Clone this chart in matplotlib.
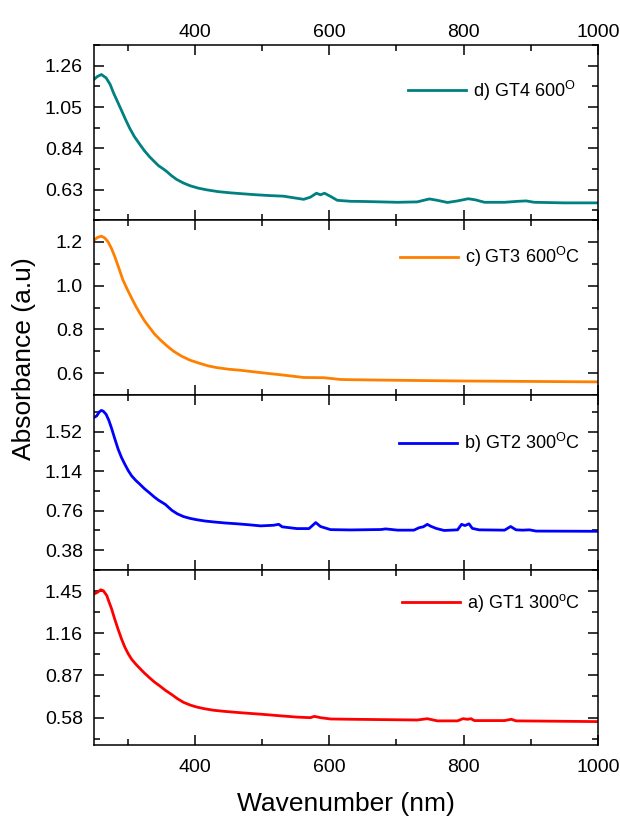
import matplotlib
matplotlib.use("Agg")
import matplotlib.pyplot as plt

plt.rcParams['font.family'] = ['Liberation Sans', 'DejaVu Sans']
plt.rcParams['mathtext.fontset'] = 'custom'
plt.rcParams['mathtext.rm'] = 'Liberation Sans'
plt.rcParams['mathtext.it'] = 'Liberation Sans'

# d) GT4 600
wl_d = [250, 255, 261, 268, 274, 279, 285, 291, 297, 303, 310, 318, 325, 333, 340,
        346, 352, 358, 365, 373, 383, 393, 405, 418, 435, 453, 472, 492, 512, 532,
        547, 562, 572, 581, 587, 593, 602, 612, 632, 652, 702, 731, 749, 761, 776,
        791, 807, 818, 831, 861, 881, 893, 905, 950, 1000]
abs_d = [1.190, 1.205, 1.215, 1.198, 1.165, 1.122, 1.077, 1.032, 0.986, 0.943, 0.900,
         0.861, 0.828, 0.796, 0.772, 0.752, 0.738, 0.723, 0.702, 0.682, 0.664, 0.650,
         0.638, 0.629, 0.620, 0.614, 0.609, 0.604, 0.600, 0.597, 0.589, 0.581, 0.592,
         0.612, 0.604, 0.612, 0.596, 0.576, 0.571, 0.570, 0.566, 0.568, 0.583, 0.576,
         0.565, 0.573, 0.584, 0.578, 0.566, 0.566, 0.571, 0.573, 0.566, 0.563, 0.563]

# c) GT3 600 C
wl_c = [250, 255, 261, 266, 271, 276, 281, 287, 293, 300, 306, 312, 318, 325, 333,
        340, 348, 358, 368, 380, 393, 408, 420, 433, 450, 468, 485, 502, 532, 562,
        592, 617, 632, 680, 740, 800, 900, 1000]
abs_c = [1.208, 1.220, 1.226, 1.218, 1.200, 1.170, 1.132, 1.080, 1.026, 0.980, 0.943,
         0.907, 0.875, 0.840, 0.807, 0.779, 0.754, 0.726, 0.701, 0.678, 0.659, 0.644,
         0.633, 0.625, 0.618, 0.613, 0.607, 0.601, 0.591, 0.580, 0.579, 0.571, 0.570,
         0.568, 0.566, 0.564, 0.562, 0.560]

# b) GT2 300 C
wl_b = [250, 254, 258, 261, 264, 268, 272, 276, 281, 286, 291, 296, 301, 306, 312,
        318, 325, 333, 340, 346, 356, 366, 374, 383, 393, 403, 415, 428, 445, 463,
        480, 498, 517, 525, 530, 552, 570, 580, 587, 602, 632, 677, 684, 702, 726,
        734, 740, 746, 751, 759, 771, 791, 797, 802, 808, 813, 823, 861, 870, 878,
        888, 898, 908, 1000]
abs_b = [1.656, 1.671, 1.710, 1.724, 1.715, 1.686, 1.630, 1.555, 1.450, 1.350, 1.270,
         1.205, 1.145, 1.095, 1.052, 1.016, 0.972, 0.929, 0.890, 0.861, 0.821, 0.763,
         0.730, 0.704, 0.686, 0.673, 0.661, 0.652, 0.642, 0.634, 0.625, 0.614, 0.620,
         0.629, 0.605, 0.588, 0.588, 0.646, 0.608, 0.578, 0.575, 0.579, 0.585, 0.573,
         0.573, 0.597, 0.605, 0.629, 0.611, 0.590, 0.570, 0.576, 0.629, 0.617, 0.634,
         0.590, 0.576, 0.573, 0.608, 0.576, 0.573, 0.576, 0.564, 0.562]

# a) GT1 300 C
wl_a = [250, 255, 260, 264, 269, 272, 276, 281, 286, 291, 296, 301, 306, 312, 318,
        325, 333, 340, 348, 356, 366, 374, 383, 393, 403, 415, 428, 445, 463, 480,
        498, 527, 552, 572, 578, 587, 602, 632, 731, 746, 761, 791, 799, 806, 811,
        816, 861, 871, 878, 1000]
abs_a = [1.430, 1.441, 1.459, 1.452, 1.419, 1.380, 1.330, 1.255, 1.185, 1.120, 1.063,
         1.018, 0.981, 0.948, 0.919, 0.886, 0.852, 0.824, 0.797, 0.768, 0.737, 0.710,
         0.685, 0.666, 0.652, 0.640, 0.630, 0.622, 0.615, 0.609, 0.603, 0.592, 0.583,
         0.579, 0.588, 0.579, 0.570, 0.568, 0.563, 0.572, 0.557, 0.557, 0.572, 0.568,
         0.572, 0.559, 0.559, 0.568, 0.557, 0.552]

labels = [r'd) GT4 600$^{\mathrm{O}}$',
          r'c) GT3 600$^{\mathrm{O}}$C',
          r'b) GT2 300$^{\mathrm{O}}$C',
          r'a) GT1 300$^{\mathrm{o}}$C']
colors = ['#008080', '#FF8000', '#0000FF', '#FF0000']
yticks = [[0.63, 0.84, 1.05, 1.26],
          [0.6, 0.8, 1.0, 1.2],
          [0.38, 0.76, 1.14, 1.52],
          [0.58, 0.87, 1.16, 1.45]]
ytick_labels = [["0.63", "0.84", "1.05", "1.26"],
                ["0.6", "0.8", "1.0", "1.2"],
                ["0.38", "0.76", "1.14", "1.52"],
                ["0.58", "0.87", "1.16", "1.45"]]
ylims = [(0.476, 1.334), (0.502, 1.291), (0.342, 1.872), (0.391, 1.557)]
leg_pos = [(0.623, 0.739), (0.607, 0.787), (0.605, 0.726), (0.612, 0.811)]
xs = [wl_d, wl_c, wl_b, wl_a]
ys = [abs_d, abs_c, abs_b, abs_a]

fig, axes = plt.subplots(4, 1, figsize=(6.2, 8.16), dpi=100, sharex=True)
fig.subplots_adjust(left=94/620, right=598/620, top=1-45/816, bottom=1-745/816,
                    hspace=0)

for i, ax in enumerate(axes):
    ax.plot(xs[i], ys[i], color=colors[i], lw=2.0, label=labels[i])
    ax.set_xlim(250, 1000)
    ax.set_ylim(*ylims[i])
    ax.set_yticks(yticks[i])
    ax.set_yticklabels(ytick_labels[i])
    step = yticks[i][1] - yticks[i][0]
    minors = [yticks[i][0] - step / 2] + [v + step / 2 for v in yticks[i]]
    ax.set_yticks(minors, minor=True)
    ax.set_xticks([400, 600, 800, 1000])
    ax.set_xticks([300, 500, 700, 900], minor=True)
    ax.tick_params(which='both', direction='in', top=True, right=True,
                   width=1.1, labelsize=14)
    ax.tick_params(which='major', length=7)
    ax.tick_params(which='minor', length=4)
    ax.tick_params(axis='y', pad=8)
    ax.tick_params(axis='x', labelbottom=(i == 3), labeltop=(i == 0))
    for sp in ax.spines.values():
        sp.set_linewidth(1.1)
    ax.legend(loc='center left', bbox_to_anchor=leg_pos[i], frameon=False,
              fontsize=13, handlelength=3.2, handletextpad=0.4,
              borderpad=0, borderaxespad=0)

axes[0].tick_params(axis='x', which='major', pad=3)
axes[3].tick_params(axis='x', which='major', pad=10)

fig.text(346/620, 0.006, 'Wavenumber (nm)', ha='center', va='baseline', fontsize=19)
fig.text(24/620, 1-359/816, 'Absorbance (a.u)', ha='center', va='center',
         rotation=90, fontsize=19)

fig.savefig('out.png', dpi=100)
